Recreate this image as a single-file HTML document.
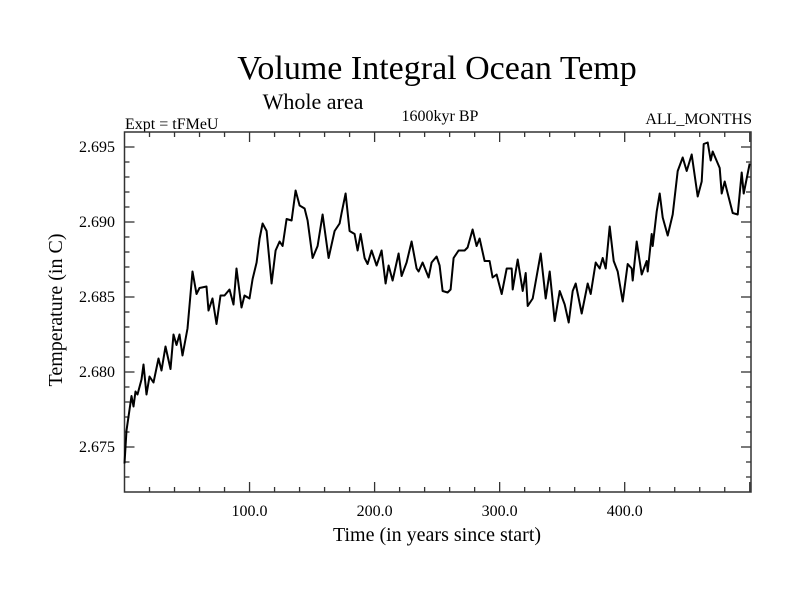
<!DOCTYPE html>
<html><head><meta charset="utf-8"><style>
body{margin:0;background:#fff;}
svg text{font-family:"Liberation Serif",serif;fill:#000;}
</style></head><body>
<svg id="chart" width="800" height="600">
<rect width="800" height="600" fill="#fff"/>
<text x="437" y="79" font-size="34" text-anchor="middle">Volume Integral Ocean Temp</text>
<text x="313" y="109" font-size="22" text-anchor="middle">Whole area</text>
<text x="125" y="129" font-size="16">Expt = tFMeU</text>
<text x="440" y="121" font-size="16" text-anchor="middle">1600kyr BP</text>
<text x="752" y="124" font-size="16" text-anchor="end">ALL_MONTHS</text>
<text x="437" y="541" font-size="20" text-anchor="middle">Time (in years since start)</text>
<text x="0" y="0" font-size="20" text-anchor="middle" transform="translate(62,310) rotate(-90)">Temperature (in C)</text>
<g id="axes"></g>
<path id="series" fill="none" stroke="#000" stroke-width="2" stroke-linejoin="round"/>
</svg>
<script>
const years=[0,1.6,5.6,7.2,8.8,10.4,13.6,15.2,17.6,20,23.2,27.2,29.6,32.8,36.8,39.2,41.6,44,46.4,50.4,54.4,57.6,60,65.6,67.2,70.4,73.6,76.8,80,84,87.2,89.6,93.6,96,100,102.4,105.6,108,110.4,113.6,117.6,120.8,124,126.4,129.6,133.6,136.8,140,144,146.4,150.4,154.4,158.4,163.2,168,172,173.6,176.8,180,184,186.4,188.8,192,194.4,197.6,201.6,205.6,208.8,211.2,214.4,219.2,221.6,225.6,229.6,233.6,235.2,238.4,243.2,245.6,249.6,252,254.4,258.4,260.8,263.2,267.2,272,274.4,278.4,281.6,284,288,292,294.4,297.6,301.6,305.6,309.6,310.4,314.4,318.4,320.8,322.4,326.4,332.8,336.8,340,344,348,352,355.2,358.4,360.8,365.6,370.4,372.8,376.8,380,382.4,384.8,388,391.2,394.4,398.4,402.4,405.6,406.4,409.6,413.6,417.6,418.4,421.6,422.4,425.6,428,430.4,434.4,438.4,442.4,446.4,449.6,453.6,458.4,461.6,463.2,466.4,468.8,470.4,476,477.6,480,482.4,486.4,490.4,493.6,495.2,500];
const temps=[2.6739,2.6761,2.6784,2.6777,2.6787,2.6785,2.6795,2.6805,2.6785,2.6797,2.6793,2.6809,2.6801,2.6817,2.6802,2.6825,2.6818,2.6825,2.6811,2.6829,2.6867,2.6852,2.6856,2.6857,2.6841,2.6849,2.6832,2.6851,2.6851,2.6855,2.6845,2.6869,2.6843,2.6851,2.6849,2.6862,2.6873,2.6889,2.6899,2.6894,2.6859,2.6881,2.6887,2.6884,2.6902,2.6901,2.6921,2.6911,2.6909,2.6901,2.6876,2.6884,2.6905,2.6876,2.6894,2.6899,2.6906,2.6919,2.6894,2.6892,2.6881,2.6892,2.6876,2.6872,2.6881,2.6871,2.6881,2.6859,2.6871,2.6861,2.6879,2.6864,2.6873,2.6887,2.6869,2.6867,2.6873,2.6863,2.6873,2.6877,2.6871,2.6854,2.6853,2.6855,2.6876,2.6881,2.6881,2.6883,2.6895,2.6884,2.6889,2.6874,2.6874,2.6863,2.6865,2.6852,2.6869,2.6869,2.6855,2.6875,2.6854,2.6866,2.6844,2.6849,2.6879,2.6849,2.6867,2.6834,2.6854,2.6845,2.6833,2.6854,2.6859,2.6839,2.6859,2.6852,2.6873,2.6869,2.6876,2.6869,2.6897,2.6874,2.6867,2.6847,2.6872,2.6869,2.6861,2.6887,2.6865,2.6874,2.6867,2.6892,2.6884,2.6907,2.6919,2.6903,2.6891,2.6905,2.6934,2.6943,2.6934,2.6945,2.6917,2.6927,2.6952,2.6953,2.6941,2.6947,2.6936,2.6919,2.6927,2.6919,2.6906,2.6905,2.6933,2.6919,2.6939];
const xTickLabels=["100.0","200.0","300.0","400.0"];
const xTickValues=[100,200,300,400];
const yTickLabels=["2.675","2.680","2.685","2.690","2.695"];
const yTickValues=[2.675,2.680,2.685,2.690,2.695];

const L=124.5,R=751,T=132,B=492;
const X0=0,X1=501,Y0=2.672,Y1=2.696;
function xs(v){return L+(v-X0)/(X1-X0)*(R-L);}
function ys(v){return B-(v-Y0)/(Y1-Y0)*(B-T);}
const NS="http://www.w3.org/2000/svg";
const ax=document.getElementById('axes');
function line(x1,y1,x2,y2,name){
  const l=document.createElementNS(NS,'line');
  l.setAttribute('x1',x1);l.setAttribute('y1',y1);l.setAttribute('x2',x2);l.setAttribute('y2',y2);
  l.setAttribute('stroke','#333');l.setAttribute('stroke-width','1.3');
  
  
  ax.appendChild(l);
}
const fr=document.createElementNS(NS,'rect');
fr.setAttribute('x',L);fr.setAttribute('y',T);fr.setAttribute('width',R-L);fr.setAttribute('height',B-T);
fr.setAttribute('fill','none');fr.setAttribute('stroke','#333');fr.setAttribute('stroke-width','1.5');


ax.appendChild(fr);
for(let v=20;v<X1;v+=20){
  const major=v%100===0, len=major?10:5, x=xs(v);
  line(x,B,x,B-len,'x-tick');
  line(x,T,x,T+len,'x-tick-top');
}
for(let k=0;k<=24;k++){
  const v=2.672+k*0.001; if(v<=Y0+1e-6||v>=Y1-1e-6) continue;
  const major=Math.round(v*1000)%5===0, len=major?10:5, y=ys(v);
  line(L,y,L+len,y,'y-tick');
  line(R,y,R-len,y,'y-tick-right');
}
xTickValues.forEach((v,i)=>{
  const t=document.createElementNS(NS,'text');
  t.setAttribute('x',xs(v));t.setAttribute('y',516);t.setAttribute('font-size','16');t.setAttribute('text-anchor','middle');
  t.textContent=xTickLabels[i];
  
  
  ax.appendChild(t);
});
yTickValues.forEach((v,i)=>{
  const t=document.createElementNS(NS,'text');
  t.setAttribute('x',115);t.setAttribute('y',ys(v)+5);t.setAttribute('font-size','16');t.setAttribute('text-anchor','end');
  t.textContent=yTickLabels[i];
  
  
  ax.appendChild(t);
});
const n=Math.min(years.length,temps.length);
let d='';
for(let i=0;i<n;i++){d+=(i?'L':'M')+xs(years[i]).toFixed(1)+','+ys(temps[i]).toFixed(1);}
document.getElementById('series').setAttribute('d',d);
</script>
</body></html>
